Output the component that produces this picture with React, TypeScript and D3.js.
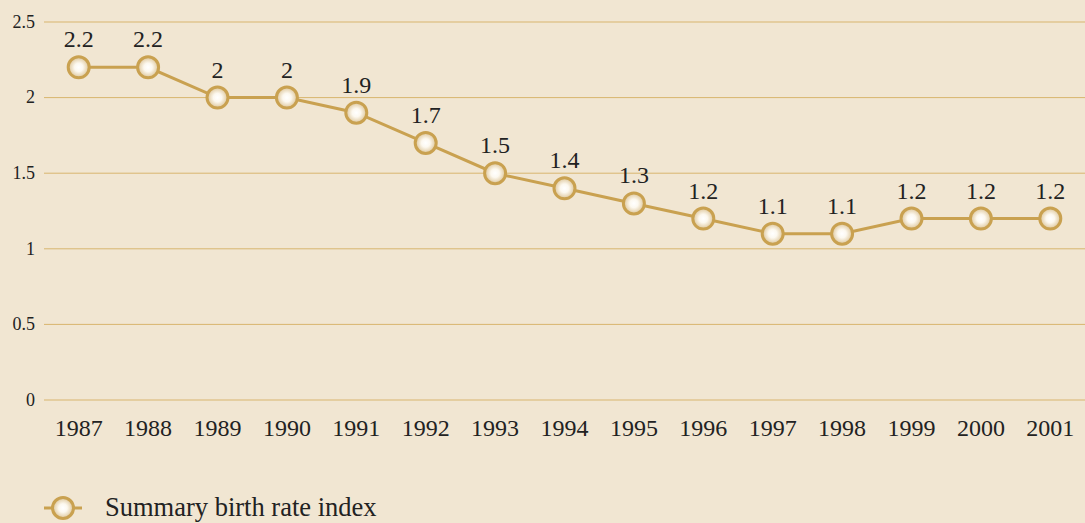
import React from 'react';
import * as d3 from 'd3';

const years = ['1987', '1988', '1989', '1990', '1991', '1992', '1993', '1994', '1995', '1996', '1997', '1998', '1999', '2000', '2001'];
const birthRate = [2.2, 2.2, 2, 2, 1.9, 1.7, 1.5, 1.4, 1.3, 1.2, 1.1, 1.1, 1.2, 1.2, 1.2];
const yTicks = [0, 0.5, 1, 1.5, 2, 2.5];
const seriesName = 'Summary birth rate index';

const W = 1085, H = 523;
const FONT = '"Liberation Serif", "DejaVu Serif", serif';
const LINE = '#c9a150';
const GRID = '#d8b56e';

function App() {
  var margin = { top: 22, right: 0, bottom: 123, left: 44 };
  var plotH = H - margin.top - margin.bottom;

  var x = d3.scalePoint()
    .domain(years)
    .range([margin.left, W])
    .padding(0.5);

  var y = d3.scaleLinear()
    .domain([0, 2.5])
    .range([margin.top + plotH, margin.top]);

  var line = d3.line<number>()
    .x((d, i) => x(years[i]) as number)
    .y(d => y(d));

  return (
    <svg width={W} height={H} style={{ position: 'absolute', left: 0, top: 0, display: 'block' }}>
      <defs>
        <radialGradient id="dot" cx="0.5" cy="0.5" r="0.5">
          <stop offset="0" stopColor="#ffffff" />
          <stop offset="0.4" stopColor="#fcf8ef" />
          <stop offset="1" stopColor="#dcc497" />
        </radialGradient>
      </defs>
      <rect width={W} height={H} fill="#f1e6d2" />

      {/* grid + y labels */}
      {yTicks.map(t => (
        <g key={t}>
          <line x1={margin.left} x2={W} y1={y(t)} y2={y(t)} stroke={GRID} strokeWidth={1} />
          <text x={35} y={y(t)} dy="0.32em" textAnchor="end" fontFamily={FONT} fontSize={18} fill="#222">{t}</text>
        </g>
      ))}

      {/* x labels */}
      {years.map(yr => (
        <text key={yr} x={x(yr)} y={436} textAnchor="middle" fontFamily={FONT} fontSize={24} fill="#222">{yr}</text>
      ))}

      <path d={line(birthRate) as string} fill="none" stroke={LINE} strokeWidth={3} />

      {birthRate.map((v, i) => (
        <g key={years[i]}>
          <circle cx={x(years[i])} cy={y(v)} r={10.5} fill="url(#dot)" stroke={LINE} strokeWidth={3} />
          <text x={x(years[i])} y={y(v) - 20} textAnchor="middle" fontFamily={FONT} fontSize={24} fill="#222">{v}</text>
        </g>
      ))}

      {/* legend */}
      <line x1={44} x2={82} y1={508} y2={508} stroke={LINE} strokeWidth={3} />
      <circle cx={63} cy={508} r={10.5} fill="url(#dot)" stroke={LINE} strokeWidth={3} />
      <text x={105} y={516} fontFamily={FONT} fontSize={26.5} fill="#222">{seriesName}</text>
    </svg>
  );
}

export default App;
